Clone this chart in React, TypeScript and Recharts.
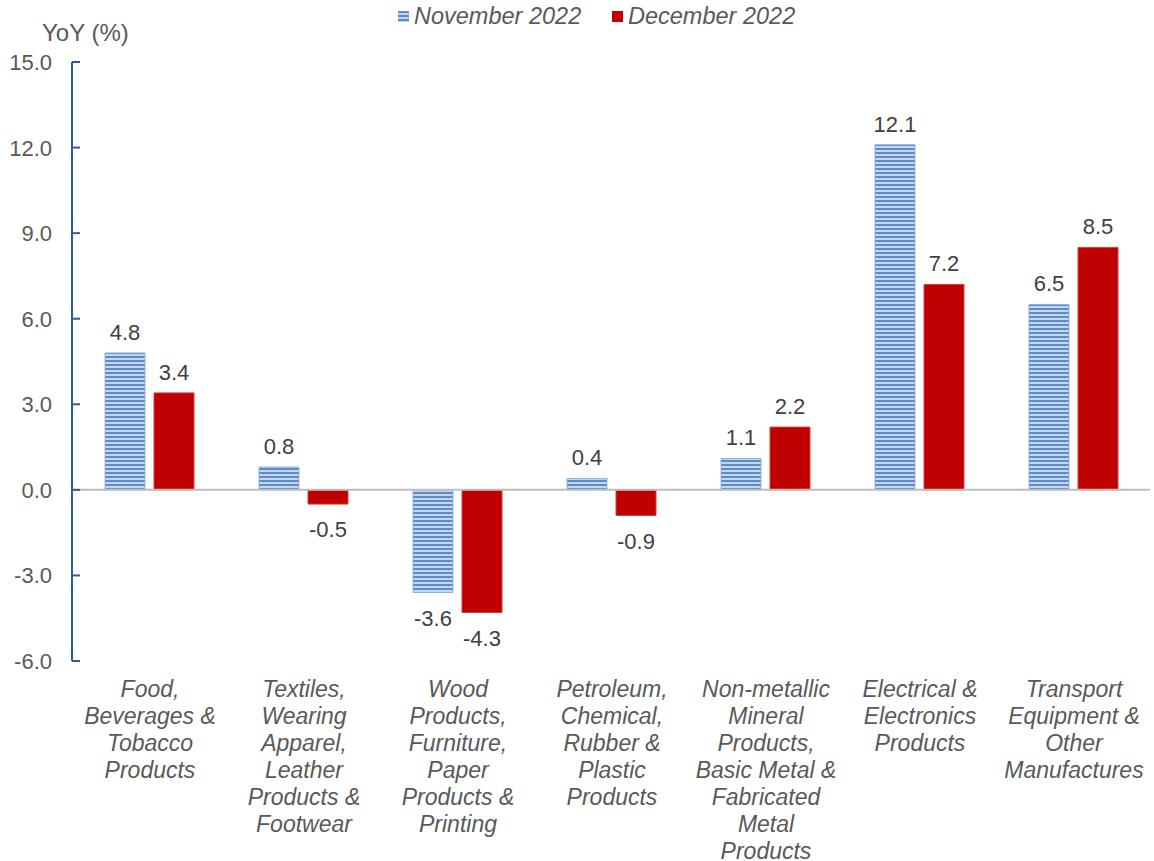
import React from "react";
import {
  BarChart,
  Bar,
  XAxis,
  YAxis,
  ReferenceLine,
  LabelList,
} from "recharts";

const categories = [
  "Food,\nBeverages &\nTobacco\nProducts",
  "Textiles,\nWearing\nApparel,\nLeather\nProducts &\nFootwear",
  "Wood\nProducts,\nFurniture,\nPaper\nProducts &\nPrinting",
  "Petroleum,\nChemical,\nRubber &\nPlastic\nProducts",
  "Non-metallic\nMineral\nProducts,\nBasic Metal &\nFabricated\nMetal\nProducts",
  "Electrical &\nElectronics\nProducts",
  "Transport\nEquipment &\nOther\nManufactures",
];

const nov2022 = [4.8, 0.8, -3.6, 0.4, 1.1, 12.1, 6.5];
const dec2022 = [3.4, -0.5, -4.3, -0.9, 2.2, 7.2, 8.5];

const yTicks = [-6, -3, 0, 3, 6, 9, 12, 15];

const data = categories.map((name, i) => ({
  name,
  nov: nov2022[i],
  dec: dec2022[i],
}));

const FONT = "'Liberation Sans', Arial, sans-serif";
const AXIS_X = 72;

function YTick(props: any) {
  const { y, payload } = props;
  return (
    <g>
      <line x1={AXIS_X} x2={AXIS_X + 8} y1={y} y2={y} stroke="#2f5d95" strokeWidth={2} />
      <text
        x={AXIS_X - 20}
        y={y}
        dy={8}
        textAnchor="end"
        fontSize={22}
        fill="#595959"
        fontFamily={FONT}
      >
        {payload.value.toFixed(1)}
      </text>
    </g>
  );
}

function XTick(props: any) {
  const { x, y, payload } = props;
  const lines = String(payload.value).split("\n");
  return (
    <g>
      {lines.map((l, i) => (
        <text
          key={i}
          x={x + 1}
          y={y + 28 + i * 27}
          textAnchor="middle"
          fontSize={23}
          fontStyle="italic"
          fill="#595959"
          fontFamily={FONT}
        >
          {l}
        </text>
      ))}
    </g>
  );
}

function ValueLabel(props: any) {
  const { x, y, width, height, value } = props;
  const neg = value < 0;
  const top = Math.min(y, y + height);
  const bottom = Math.max(y, y + height);
  return (
    <text
      x={x + width / 2}
      y={neg ? bottom + 33 : top - 13}
      textAnchor="middle"
      fontSize={22}
      fill="#404040"
      fontFamily={FONT}
    >
      {value.toFixed(1)}
    </text>
  );
}

function LegendItem(props: { left: number; label: string; fill: string }) {
  return (
    <div
      style={{
        position: "absolute",
        left: props.left,
        top: 3,
        display: "flex",
        alignItems: "center",
        fontFamily: FONT,
        fontStyle: "italic",
        fontSize: 23.5,
        color: "#595959",
        whiteSpace: "nowrap",
      }}
    >
      <svg width={11} height={11} style={{ marginRight: 5 }}>
        <rect width={11} height={11} fill={props.fill} />
      </svg>
      <span>{props.label}</span>
    </div>
  );
}

export default function App() {
  return (
    <div style={{ position: "absolute", left: 0, top: 0, width: 1154, height: 861, background: "#fff" }}>
      <div
        style={{
          position: "absolute",
          left: 42,
          top: 19,
          fontFamily: FONT,
          fontSize: 24,
          color: "#595959",
        }}
      >
        YoY (%)
      </div>
      <LegendItem left={398} label="November 2022" fill="url(#stripes)" />
      <LegendItem left={612} label="December 2022" fill="#c00000" />
      <BarChart
        width={1154}
        height={861}
        data={data}
        margin={{ top: 62, right: 4, left: 0, bottom: 0 }}
        barSize={40}
        barGap={9}
      >
        <defs>
          <pattern id="stripes" patternUnits="userSpaceOnUse" width={8} height={4}>
            <rect width={8} height={4} fill="#c3d6ee" />
            <rect width={8} height={2} fill="#5b8bc8" />
          </pattern>
        </defs>
        <XAxis
          dataKey="name"
          height={200}
          axisLine={false}
          tickLine={false}
          tick={<XTick />}
          interval={0}
        />
        <YAxis
          width={72}
          domain={[-6, 15]}
          ticks={yTicks}
          axisLine={{ stroke: "#2f5d95", strokeWidth: 2 }}
          tickLine={false}
          tick={<YTick />}
          interval={0}
        />
        <Bar dataKey="nov" fill="url(#stripes)" stroke="#8fb0dc" strokeWidth={1} isAnimationActive={false}>
          <LabelList dataKey="nov" content={<ValueLabel />} />
        </Bar>
        <Bar dataKey="dec" fill="#c00000" stroke="#d04040" strokeWidth={1} isAnimationActive={false}>
          <LabelList dataKey="dec" content={<ValueLabel />} />
        </Bar>
        <ReferenceLine y={0} stroke="#bfbfbf" strokeWidth={2} />
      </BarChart>
    </div>
  );
}
